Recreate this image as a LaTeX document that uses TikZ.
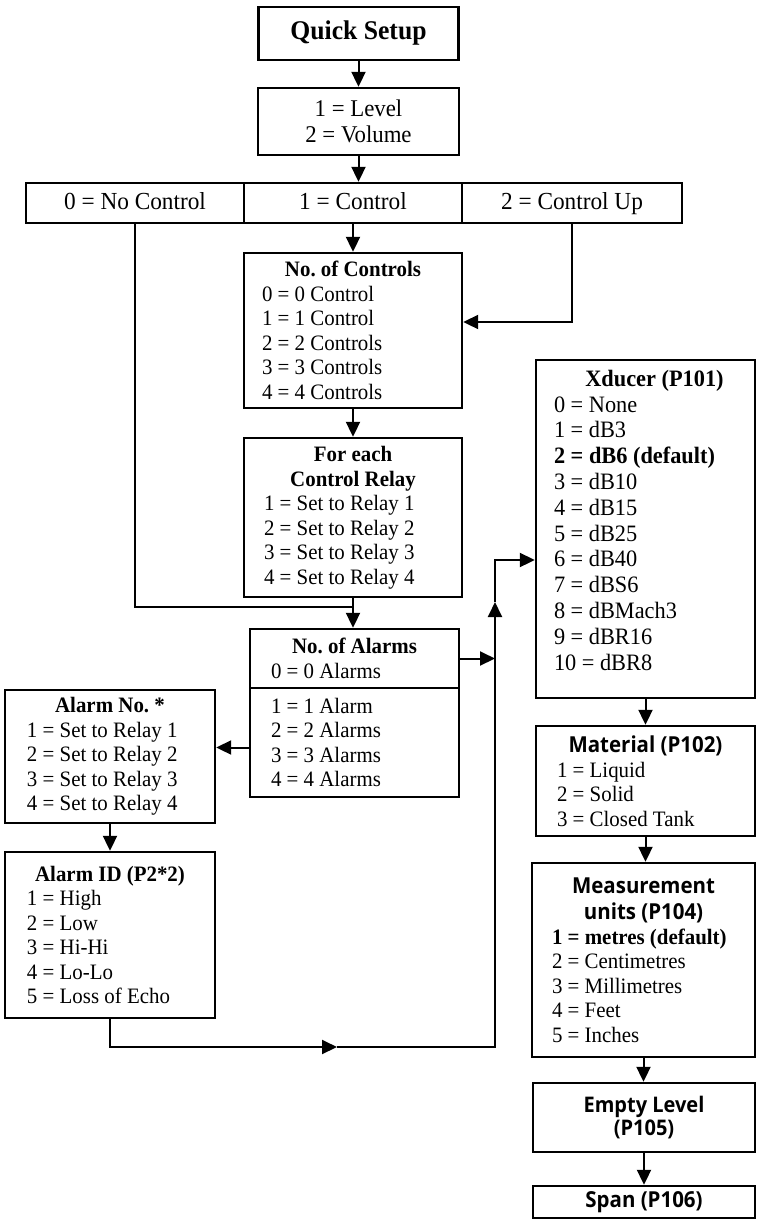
\documentclass[tikz,border=0pt]{standalone}
\usepackage{fontspec}
\setmainfont{Liberation Serif}[FakeStretch=0.95]
\newfontfamily\uisans{Open Sans}[FakeStretch=0.93]
\usetikzlibrary{arrows.meta}
\frenchspacing

\newcommand{\headline}[1]{\makebox[\hsize]{\bfseries #1}}
\newcommand{\uihead}[1]{\makebox[\hsize]{\uisans\bfseries #1}}

\begin{document}
\begin{tikzpicture}[
x=1pt, y=-1pt,
every node/.style={
    draw,
    line width=2.4pt,
    inner sep=0pt,
    font=\fontsize{22}{24.5}\selectfont
},
listbox/.style={align=flush left},
choice/.style={
    minimum width=218pt,
    minimum height=40pt,
    text height=17pt,
    text depth=5pt,
    font=\fontsize{24.5}{27}\selectfont
},
link/.style={line width=2pt},
>={Triangle[length=15pt,width=14pt]}
]
\useasboundingbox (0,0) rectangle (756,1219);

\node (setup) [minimum width=200pt, minimum height=53pt,
  font=\fontsize{27}{30}\selectfont\bfseries] at (358.5,33.5) {Quick Setup};

\node (mode) [align=flush center, minimum width=201pt, minimum height=67pt,
  font=\fontsize{24}{25.7}\selectfont] at (358.5,121.5)
{1 = Level\\2 = Volume};

\node (nocontrol) [choice] at (135,203) {0 = No Control};
\node (control) [choice] at (353,203) {1 = Control};
\node (controlup) [choice, minimum width=220pt] at (572,203) {2 = Control Up};

\node (controls) [listbox, text width=182pt, inner xsep=18pt,
  minimum height=155pt] at (353,330.5)
{\headline{No. of Controls}\\0 = 0 Control\\1 = 1 Control\\
2 = 2 Controls\\3 = 3 Controls\\4 = 4 Controls};

\node (relay) [listbox, text width=178pt, inner xsep=20pt,
  minimum height=159pt] at (353,517.5)
{\headline{For each}\\\headline{Control Relay}\\1 = Set to Relay 1\\
2 = Set to Relay 2\\3 = Set to Relay 3\\4 = Set to Relay 4};

\node (alarmstop) [listbox, text width=167pt, inner xsep=21pt,
  minimum height=59pt] at (354.5,658.5)
{\headline{No. of Alarms}\\0 = 0 Alarms};

\node (alarmsbot) [listbox, text width=167pt, inner xsep=21pt,
  minimum height=109pt] at (354.5,742.5)
{1 = 1 Alarm\\2 = 2 Alarms\\3 = 3 Alarms\\4 = 4 Alarms};

\node (alarmno) [listbox, text width=166pt, inner xsep=22pt,
  minimum height=133pt] at (110,756.5)
{\headline{Alarm No. *}\\1 = Set to Relay 1\\2 = Set to Relay 2\\
3 = Set to Relay 3\\4 = Set to Relay 4};

\node (alarmid) [listbox, text width=166pt, inner xsep=22pt,
  minimum height=166pt] at (110,935)
{\headline{Alarm ID (P2*2)}\\1 = High\\2 = Low\\3 = Hi-Hi\\4 = Lo-Lo\\
5 = Loss of Echo};

\node (xducer) [listbox, text width=183pt, inner xsep=18pt,
  minimum height=338pt, font=\fontsize{23.5}{25.8}\selectfont] at (645.5,529)
{\makebox[\hsize]{\hspace{18pt}\bfseries Xducer (P101)}\\0 = None\\1 = dB3\\
{\bfseries 2 = dB6 (default)}\\3 = dB10\\4 = dB15\\5 = dB25\\6 = dB40\\
7 = dBS6\\8 = dBMach3\\9 = dBR16\\10 = dBR8\rule[-18pt]{0pt}{18pt}};

\node (material) [listbox, text width=177pt, inner xsep=21pt,
  minimum height=110pt] at (645.5,781)
{\uihead{Material (P102)}\\1 = Liquid\\2 = Solid\\3 = Closed Tank};

\node (units) [listbox, text width=183pt, inner xsep=20pt,
  minimum height=194pt] at (643.5,960)
{\uihead{Measurement}\\[2pt]\uihead{units (P104)}\\
{\bfseries 1 = metres (default)}\\2 = Centimetres\\3 = Millimetres\\
4 = Feet\\5 = Inches};

\node (empty) [align=flush center, minimum width=222pt, minimum height=69pt,
  font=\fontsize{21.5}{23}\selectfont\uisans\bfseries] at (644,1117.5)
{Empty Level\\(P105)};

\node (span) [minimum width=222pt, minimum height=32pt,
  font=\fontsize{22}{23}\selectfont\uisans\bfseries] at (644,1202)
{Span (P106)};

% corners of the return line
\coordinate (merge) at (353,607);
\coordinate (busA) at (337,1047);
\coordinate (busB) at (495,1047);
\coordinate (busC) at (495,602);
\coordinate (busD) at (495,560);
\coordinate (almid) at ([yshift=-5pt]alarmsbot.west);

\draw[link,->] (setup)--(mode);
\draw[link,->] (mode.south)--(mode.south |- control.north);
\draw[link,->] (control)--(controls);
\draw[link,->] (controlup.south) |- ([yshift=8.5pt]controls.east);
\draw[link,->] (controls)--(relay);
\draw[link] (nocontrol.south) |- (merge);
\draw[link,->] (relay.south)--(relay.south |- alarmstop.north);
\draw[link,->] (almid)--(almid -| alarmno.east);
\draw[link,->] (alarmno)--(alarmid);
\draw[link,->] (alarmid.south) |- (busA);
\draw[link,->] (busA)--(busB)--(busC);
\draw[link,->] (busC)--(busD)--(busD -| xducer.west);
\draw[link,->] (alarmstop.east)--(alarmstop.east -| busB);
\draw[link,->] (xducer)--(material);
\draw[link,->] (material.south)--(material.south |- units.north);
\draw[link,->] (units.south)--(units.south |- empty.north);
\draw[link,->] (empty.south)--(empty.south |- span.north);

\end{tikzpicture}
\end{document}
